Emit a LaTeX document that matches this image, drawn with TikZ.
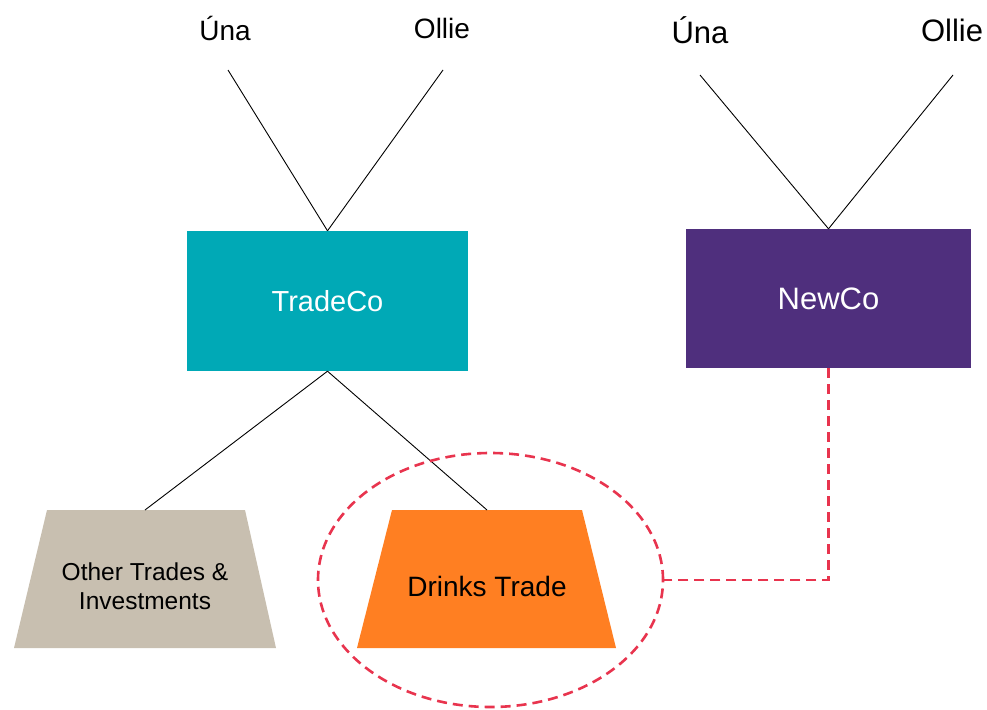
\documentclass[tikz,border=0pt]{standalone}
\usepackage{fontspec}
\setmainfont{Liberation Sans}
\usetikzlibrary{shapes.geometric}
\definecolor{tealc}{HTML}{00A9B6}
\definecolor{purpc}{HTML}{4F2F7D}
\definecolor{orangec}{HTML}{FF7F22}
\definecolor{beigec}{HTML}{C8BFB0}
\definecolor{redc}{HTML}{E8344E}
\begin{document}
\begin{tikzpicture}[x=1pt,y=-1pt,
  owner/.style={inner sep=0pt, anchor=center},
  link/.style={draw=black, line width=0.9pt},
  cobox/.style={draw=none, inner sep=0pt, text=white},
  ringlink/.style={draw=redc, line width=2.6pt, dash pattern=on 10pt off 6pt}]
\useasboundingbox (0,0) rectangle (987,709);
% owners
\node[owner, font=\fontsize{28}{32}\selectfont] (u1) at (225,28) {Úna};
\node[owner, font=\fontsize{28}{32}\selectfont] (o1) at (442,28) {Ollie};
\node[owner, font=\fontsize{31}{35}\selectfont] (u2) at (700,30) {Úna};
\node[owner, font=\fontsize{31}{35}\selectfont] (o2) at (952,30) {Ollie};
\coordinate (u1e) at (228,70);
\coordinate (o1e) at (443,70);
\coordinate (u2e) at (700,75);
\coordinate (o2e) at (953,75);
% companies
\node[cobox, fill=tealc, minimum width=281pt, minimum height=140pt, font=\fontsize{29}{33}\selectfont] (trade) at (327.5,301) {TradeCo};
\node[cobox, fill=purpc, minimum width=285pt, minimum height=139pt, font=\fontsize{31}{35}\selectfont] (newco) at (828.5,298.5) {NewCo};
\draw[link] (u1e) -- (trade.north);
\draw[link] (o1e) -- (trade.north);
\draw[link] (u2e) -- (newco.north);
\draw[link] (o2e) -- (newco.north);
% subsidiaries
\fill[beigec] (47,510) -- (245,510) -- (276,648) -- (14,648) -- cycle;
\fill[orangec] (392,510) -- (582,510) -- (616,648) -- (357,648) -- cycle;
\coordinate (othtop) at (145,510);
\coordinate (drtop) at (487,510);
\node[align=center, inner sep=0pt, font=\fontsize{24.5}{29}\selectfont] (other) at (145,586) {Other Trades \&\\Investments};
\node[inner sep=0pt, font=\fontsize{28}{32}\selectfont] (drinks) at (487,586) {Drinks Trade};
\draw[link] (trade.south) -- (othtop);
\draw[link] (trade.south) -- (drtop);
% ring and dashed link
\node[ellipse, draw=redc, line width=2.6pt, dash pattern=on 10pt off 6pt, minimum width=345pt, minimum height=254pt, inner sep=0pt] (ring) at (490.5,580) {};
\draw[ringlink] (newco.south) |- (ring.east);
\end{tikzpicture}
\end{document}
